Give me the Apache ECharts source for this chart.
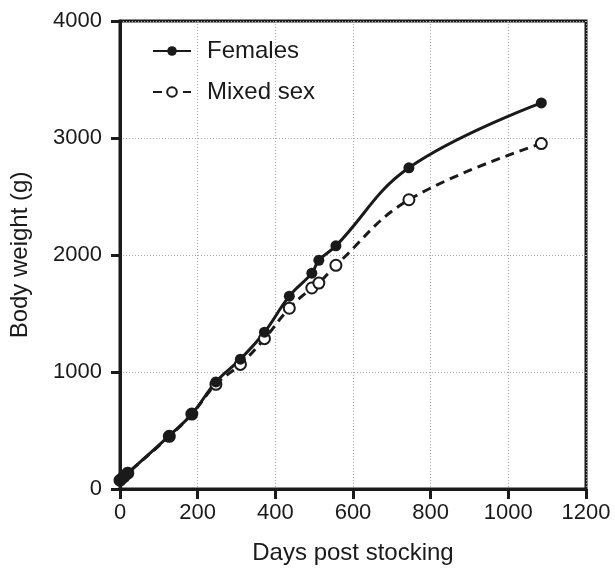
<!DOCTYPE html>
<html>
<head>
<meta charset="utf-8">
<script src="https://cdn.jsdelivr.net/npm/echarts@6/dist/echarts.min.js"></script>
<style>
  html, body { margin: 0; padding: 0; background: #fff; }
  #chart { width: 615px; height: 574px; }
</style>
</head>
<body>
<div id="chart"></div>
<script>
// days post stocking (sampling days)
const days = [0, 10, 20, 127, 185, 247, 310, 372, 436, 494, 512, 556, 744, 1085]
// body weight (g)
const females = [75, 105, 135, 456, 641, 915, 1110, 1340, 1648, 1845, 1955, 2078, 2745, 3300]
const mixedSex = [75, 105, 135, 450, 640, 895, 1065, 1285, 1545, 1718, 1760, 1912, 2472, 2952]
const seriesNames = ['Females', 'Mixed sex']

const font = 'Liberation Sans, Arial, Helvetica, sans-serif'
const ink = '#1a1a1a'

function pairs(xs, ys) {
  return xs.map((x, i) => [x, ys[i]])
}

const chart = echarts.init(document.getElementById('chart'))

chart.setOption({
  backgroundColor: '#fff',
  animation: false,
  textStyle: { fontFamily: font, color: ink },
  grid: {
    left: 119,
    right: 29,
    top: 21,
    bottom: 85,
    show: true,
    borderColor: ink,
    borderWidth: 3
  },
  legend: {
    orient: 'vertical',
    left: 147,
    top: 34,
    itemWidth: 38,
    itemHeight: 12,
    itemGap: 17,
    textStyle: { fontSize: 24, color: ink, fontFamily: font, padding: [0, 0, 0, 11] },
    data: seriesNames
  },
  xAxis: {
    type: 'value',
    min: 0,
    max: 1200,
    interval: 200,
    name: 'Days post stocking',
    nameLocation: 'middle',
    nameGap: 52,
    nameTextStyle: { fontSize: 24, color: ink, fontFamily: font },
    axisLine: { onZero: false, lineStyle: { color: ink, width: 3 } },
    axisTick: { length: 10, lineStyle: { color: ink, width: 3 } },
    axisLabel: { fontSize: 22, color: ink, margin: 13, fontFamily: font, formatter: v => String(v) },
    splitLine: { show: true, lineStyle: { color: '#aaa', width: 1, type: [1, 2] } }
  },
  yAxis: {
    type: 'value',
    min: 0,
    max: 4000,
    interval: 1000,
    name: 'Body weight (g)',
    nameLocation: 'middle',
    nameGap: 88,
    nameTextStyle: { fontSize: 24, color: ink, fontFamily: font },
    axisLine: { show: true, onZero: false, lineStyle: { color: ink, width: 3 } },
    axisTick: { show: true, length: 9, lineStyle: { color: ink, width: 3 } },
    axisLabel: { fontSize: 22, color: ink, margin: 18, fontFamily: font, formatter: v => String(v) },
    splitLine: { show: true, lineStyle: { color: '#aaa', width: 1, type: [1, 2] } }
  },
  series: [
    {
      name: 'Mixed sex',
      type: 'line',
      smooth: 0.4,
      symbol: 'emptyCircle',
      symbolSize: 11,
      itemStyle: { color: ink, borderWidth: 1.5 },
      lineStyle: { color: ink, width: 3, type: [9, 6] },
      data: pairs(days, mixedSex)
    },
    {
      name: 'Females',
      type: 'line',
      smooth: 0.4,
      symbol: 'circle',
      symbolSize: 11,
      itemStyle: { color: ink },
      lineStyle: { color: ink, width: 3 },
      data: pairs(days, females)
    }
  ]
})
</script>
</body>
</html>
